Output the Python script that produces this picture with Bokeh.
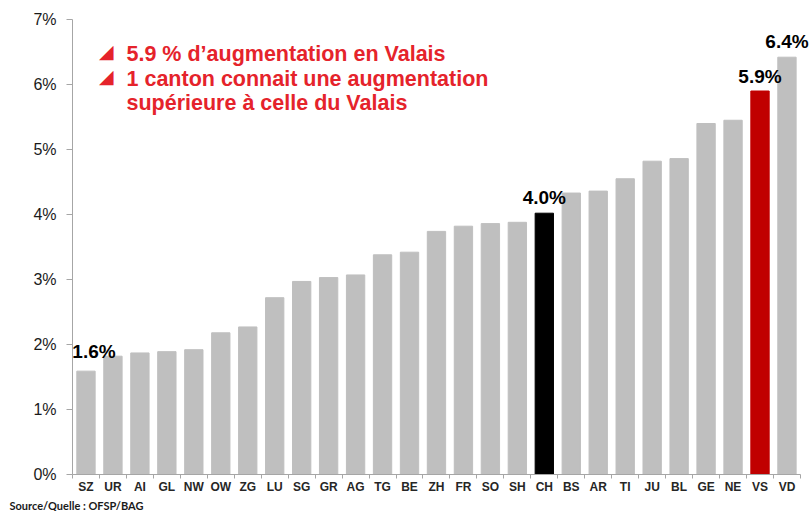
from bokeh.plotting import figure
from bokeh.models import ColumnDataSource, FixedTicker, PrintfTickFormatter, Range1d, Title
from bokeh.core.properties import value
from bokeh.embed import file_html
from bokeh.resources import INLINE

# ---- data ----
cantons = ["SZ", "UR", "AI", "GL", "NW", "OW", "ZG", "LU", "SG", "GR", "AG", "TG", "BE",
           "ZH", "FR", "SO", "SH", "CH", "BS", "AR", "TI", "JU", "BL", "GE", "NE", "VS", "VD"]
growth = [1.59, 1.82, 1.87, 1.89, 1.92, 2.18, 2.27, 2.72, 2.97, 3.03, 3.07, 3.38, 3.42,
          3.74, 3.82, 3.86, 3.88, 4.02, 4.33, 4.36, 4.55, 4.82, 4.86, 5.40, 5.45, 5.90, 6.42]
y_ticks = [0, 1, 2, 3, 4, 5, 6, 7]
labelled = ["SZ", "CH", "VS", "VD"]
label_texts = ["1.6%", "4.0%", "5.9%", "6.4%"]
notes = ["5.9 % d\u2019augmentation en Valais",
         "1 canton connait une augmentation",
         "supérieure à celle du Valais"]
bullets = ["\u25E2", "\u25E2"]
source_text = "Source/Quelle : OFSP/BAG"

# ---- styles ----
GREY = "#BFBFBF"
bar_colors = {"CH": "#000000", "VS": "#C00000"}
RED = "#E5232B"
AXIS = "#A6A6A6"

n = len(cantons)
idx = list(range(n))
colors = [bar_colors.get(c, GREY) for c in cantons]
src = ColumnDataSource(dict(x=idx, top=growth, color=colors, name=cantons))

p = figure(width=811, height=511, output_backend="svg", toolbar_location=None,
           x_range=Range1d(-0.5, n - 0.5 + 0.41), y_range=Range1d(0, 7),
           min_border_left=72, min_border_right=0, min_border_top=19, min_border_bottom=30)
p.outline_line_color = None
p.xgrid.visible = False
p.ygrid.visible = False
p.background_fill_color = "white"

p.vbar(x="x", top="top", width=0.68, color="color", source=src)

# value labels
lx = [cantons.index(c) for c in labelled]
ly = [growth[i] for i in lx]
p.text(x=lx, y=ly, text=label_texts, x_offset=[8, 0, 0, 0], y_offset=[-20, -16, -15, -16],
       text_align="center", text_baseline="alphabetic",
       text_font=value("Liberation Sans"), text_font_style="bold",
       text_font_size="19px", text_color="#000000")

# annotation text
note_x = 1.503
note_y = 6.357
p.text(x=[note_x] * len(notes), y=[note_y] * len(notes), text=notes,
       y_offset=[-7, 17.5, 41.5], text_align="left", text_baseline="alphabetic",
       text_font=value("Liberation Sans"), text_font_style="bold",
       text_font_size="21.5px", text_color=RED)
p.text(x=[note_x] * len(bullets), y=[note_y] * len(bullets), text=bullets,
       x_offset=-13, y_offset=[-10, 14.5], text_align="right", text_baseline="alphabetic",
       text_font=value("DejaVu Sans"), text_font_size="19px", text_color=RED)

# y axis
p.yaxis.ticker = FixedTicker(ticks=y_ticks)
p.yaxis.formatter = PrintfTickFormatter(format="%d%%")
p.yaxis.minor_tick_line_color = None
p.yaxis.major_tick_out = 6
p.yaxis.major_tick_in = 0
p.yaxis.axis_line_color = AXIS
p.yaxis.major_tick_line_color = AXIS
p.yaxis.major_label_standoff = 10
p.yaxis.major_label_text_font = "Liberation Sans"
p.yaxis.major_label_text_font_size = "16px"
p.yaxis.major_label_text_color = "#1A1A1A"

# x axis: labels at centres, small ticks at category boundaries
p.xaxis.bounds = (-0.5, n - 0.5)
p.xaxis.ticker = FixedTicker(ticks=idx, minor_ticks=[i + 0.5 for i in range(-1, n)])
p.xaxis.major_label_overrides = {i: c for i, c in zip(idx, cantons)}
p.xaxis.major_tick_line_color = None
p.xaxis.major_tick_out = 0
p.xaxis.major_tick_in = 0
p.xaxis.minor_tick_out = 4
p.xaxis.minor_tick_in = 0
p.xaxis.minor_tick_line_color = AXIS
p.xaxis.axis_line_color = AXIS
p.xaxis.major_label_standoff = 1
p.xaxis.major_label_text_font = "Liberation Sans"
p.xaxis.major_label_text_font_style = "bold"
p.xaxis.major_label_text_font_size = "12px"
p.xaxis.major_label_text_color = "#262626"

# source note
p.add_layout(Title(text=source_text, align="left", offset=-63, standoff=0,
                   text_font="Lato", text_font_style="bold", text_font_size="11px",
                   text_color="#1A1A1A"), "below")

open("out.html", "w").write(file_html(p, INLINE))
